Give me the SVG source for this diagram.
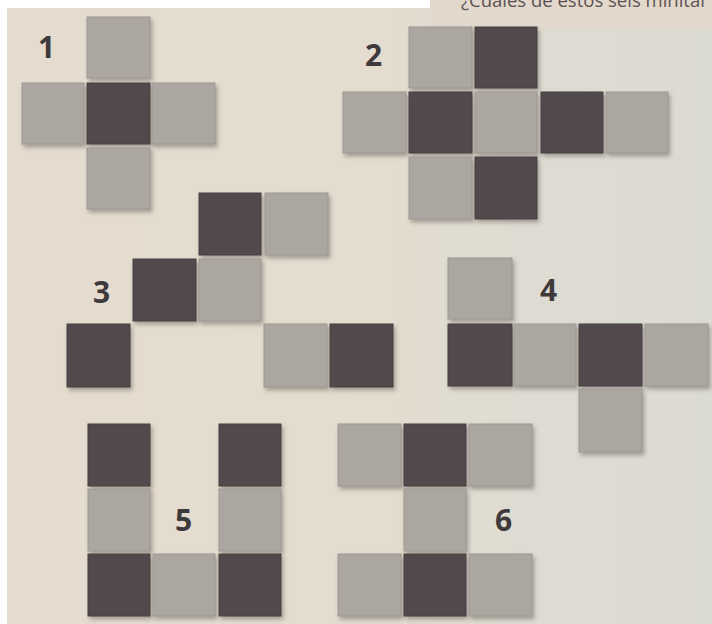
<svg xmlns="http://www.w3.org/2000/svg" width="712" height="624" viewBox="0 0 712 624">
<defs>
<linearGradient id="paper" x1="0" y1="0" x2="1" y2="0">
<stop offset="0" stop-color="#e5dccf"/>
<stop offset="0.55" stop-color="#e3dccf"/>
<stop offset="0.72" stop-color="#dedcd2"/>
<stop offset="1" stop-color="#dcdbd3"/>
</linearGradient>
<filter id="sh" x="-20%" y="-20%" width="150%" height="150%">
<feDropShadow dx="2" dy="3" stdDeviation="2" flood-color="#5a5048" flood-opacity="0.45"/>
</filter>
</defs>
<style>
.d{fill:#514a4c;stroke:#463f42;stroke-width:1}
.l{fill:#aba6a0;stroke:#9d9793;stroke-width:1}
.num{font-family:"Open Sans","Liberation Sans",sans-serif;font-weight:bold;font-size:30px;fill:#3e393b}
.hdr{font-family:"Open Sans","Liberation Sans",sans-serif;font-size:18.5px;fill:#5b5253}
g.fig{filter:url(#sh)}
</style>
<rect x="0" y="0" width="712" height="624" fill="#ffffff"/>
<rect x="7" y="8" width="705" height="616" fill="url(#paper)"/>
<rect x="430" y="0" width="282" height="26" fill="#e2d8cc"/>
<rect x="430" y="20" width="282" height="10" fill="#e2d9cd" opacity="0.6"/>
<text class="hdr" x="461" y="7">¿Cuáles de estos seis minital</text>

<g id="fig1">
<text class="num" x="38" y="58">1</text>
<g class="fig">
<rect class="l" x="87" y="17" width="63" height="61"/>
<rect class="l" x="22" y="83" width="62" height="61"/>
<rect class="d" x="87" y="83" width="63" height="61"/>
<rect class="l" x="152" y="83" width="63" height="61"/>
<rect class="l" x="87" y="148" width="63" height="61"/>
</g>
</g>

<g id="fig2">
<text class="num" x="365" y="66">2</text>
<g class="fig">
<rect class="l" x="409" y="27" width="63" height="61"/>
<rect class="d" x="475" y="27" width="62" height="61"/>
<rect class="l" x="343" y="92" width="63" height="61"/>
<rect class="d" x="409" y="92" width="63" height="61"/>
<rect class="l" x="475" y="92" width="62" height="61"/>
<rect class="d" x="541" y="92" width="62" height="61"/>
<rect class="l" x="606" y="92" width="62" height="61"/>
<rect class="l" x="409" y="157" width="63" height="62"/>
<rect class="d" x="475" y="157" width="62" height="62"/>
</g>
</g>

<g id="fig3">
<text class="num" x="93" y="303">3</text>
<g class="fig">
<rect class="d" x="199" y="193" width="62" height="62"/>
<rect class="l" x="265" y="193" width="63" height="62"/>
<rect class="d" x="133" y="259" width="63" height="62"/>
<rect class="l" x="199" y="259" width="62" height="62"/>
<rect class="d" x="67" y="324" width="63" height="63"/>
<rect class="l" x="264" y="324" width="63" height="63"/>
<rect class="d" x="330" y="324" width="63" height="63"/>
</g>
</g>

<g id="fig4">
<text class="num" x="540" y="301">4</text>
<g class="fig">
<rect class="l" x="448" y="258" width="64" height="61"/>
<rect class="d" x="448" y="324" width="64" height="62"/>
<rect class="l" x="514" y="324" width="62" height="62"/>
<rect class="d" x="579" y="324" width="63" height="62"/>
<rect class="l" x="645" y="324" width="63" height="62"/>
<rect class="l" x="579" y="389" width="63" height="63"/>
</g>
</g>

<g id="fig5">
<text class="num" x="175" y="531">5</text>
<g class="fig">
<rect class="d" x="88" y="424" width="62" height="62"/>
<rect class="l" x="88" y="489" width="62" height="62"/>
<rect class="d" x="88" y="554" width="62" height="62"/>
<rect class="l" x="153" y="554" width="62" height="62"/>
<rect class="d" x="219" y="424" width="62" height="62"/>
<rect class="l" x="219" y="489" width="62" height="62"/>
<rect class="d" x="219" y="554" width="62" height="62"/>
</g>
</g>

<g id="fig6">
<text class="num" x="495" y="531">6</text>
<g class="fig">
<rect class="l" x="338" y="424" width="63" height="62"/>
<rect class="d" x="404" y="424" width="62" height="62"/>
<rect class="l" x="469" y="424" width="63" height="62"/>
<rect class="l" x="404" y="489" width="62" height="62"/>
<rect class="l" x="338" y="554" width="63" height="62"/>
<rect class="d" x="404" y="554" width="62" height="62"/>
<rect class="l" x="469" y="554" width="63" height="62"/>
</g>
</g>

<g id="connectors"></g>
</svg>
